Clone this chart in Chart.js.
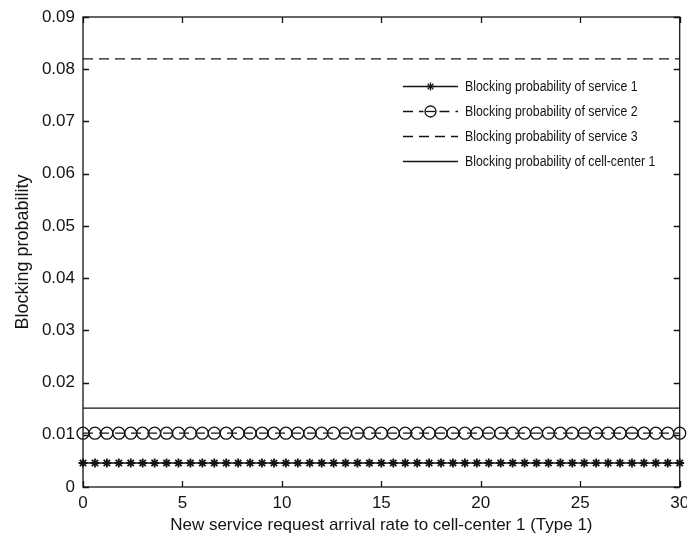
<!DOCTYPE html>
<html>
<head>
<meta charset="utf-8">
<script src="https://cdn.jsdelivr.net/npm/chart.js@4.4.1/dist/chart.umd.min.js"></script>
<style>
  html, body { margin: 0; padding: 0; background: #fff; }
  #wrap { width: 687px; height: 540px; }
</style>
</head>
<body>
<div id="wrap"><canvas id="blockChart" width="687" height="540"></canvas></div>
<script>
// arrival rate (x) values
const rates = [0, 0.6, 1.2, 1.8, 2.4, 3, 3.6, 4.2, 4.8, 5.4, 6, 6.6, 7.2, 7.8, 8.4, 9, 9.6,
  10.2, 10.8, 11.4, 12, 12.6, 13.2, 13.8, 14.4, 15, 15.6, 16.2, 16.8, 17.4, 18, 18.6, 19.2,
  19.8, 20.4, 21, 21.6, 22.2, 22.8, 23.4, 24, 24.6, 25.2, 25.8, 26.4, 27, 27.6, 28.2, 28.8,
  29.4, 30];

// blocking probability per series
const service1 = [0.0046, 0.0046, 0.0046, 0.0046, 0.0046, 0.0046, 0.0046, 0.0046, 0.0046, 0.0046,
  0.0046, 0.0046, 0.0046, 0.0046, 0.0046, 0.0046, 0.0046, 0.0046, 0.0046, 0.0046, 0.0046, 0.0046,
  0.0046, 0.0046, 0.0046, 0.0046, 0.0046, 0.0046, 0.0046, 0.0046, 0.0046, 0.0046, 0.0046, 0.0046,
  0.0046, 0.0046, 0.0046, 0.0046, 0.0046, 0.0046, 0.0046, 0.0046, 0.0046, 0.0046, 0.0046, 0.0046,
  0.0046, 0.0046, 0.0046, 0.0046, 0.0046];
const service2 = [0.0103, 0.0103, 0.0103, 0.0103, 0.0103, 0.0103, 0.0103, 0.0103, 0.0103, 0.0103,
  0.0103, 0.0103, 0.0103, 0.0103, 0.0103, 0.0103, 0.0103, 0.0103, 0.0103, 0.0103, 0.0103, 0.0103,
  0.0103, 0.0103, 0.0103, 0.0103, 0.0103, 0.0103, 0.0103, 0.0103, 0.0103, 0.0103, 0.0103, 0.0103,
  0.0103, 0.0103, 0.0103, 0.0103, 0.0103, 0.0103, 0.0103, 0.0103, 0.0103, 0.0103, 0.0103, 0.0103,
  0.0103, 0.0103, 0.0103, 0.0103, 0.0103];
const service3 = [0.082, 0.082, 0.082, 0.082, 0.082, 0.082, 0.082, 0.082, 0.082, 0.082,
  0.082, 0.082, 0.082, 0.082, 0.082, 0.082, 0.082, 0.082, 0.082, 0.082, 0.082, 0.082,
  0.082, 0.082, 0.082, 0.082, 0.082, 0.082, 0.082, 0.082, 0.082, 0.082, 0.082, 0.082,
  0.082, 0.082, 0.082, 0.082, 0.082, 0.082, 0.082, 0.082, 0.082, 0.082, 0.082, 0.082,
  0.082, 0.082, 0.082, 0.082, 0.082];
const cellCenter1 = [0.0151, 0.0151, 0.0151, 0.0151, 0.0151, 0.0151, 0.0151, 0.0151, 0.0151, 0.0151,
  0.0151, 0.0151, 0.0151, 0.0151, 0.0151, 0.0151, 0.0151, 0.0151, 0.0151, 0.0151, 0.0151, 0.0151,
  0.0151, 0.0151, 0.0151, 0.0151, 0.0151, 0.0151, 0.0151, 0.0151, 0.0151, 0.0151, 0.0151, 0.0151,
  0.0151, 0.0151, 0.0151, 0.0151, 0.0151, 0.0151, 0.0151, 0.0151, 0.0151, 0.0151, 0.0151, 0.0151,
  0.0151, 0.0151, 0.0151, 0.0151, 0.0151];

const seriesNames = ['Blocking probability of service 1', 'Blocking probability of service 2',
  'Blocking probability of service 3', 'Blocking probability of cell-center 1'];
const xTitle = 'New service request arrival rate to cell-center 1 (Type 1)';
const yTitle = 'Blocking probability';

const ink = '#141414';
const sans = '"Liberation Sans", Arial, sans-serif';
const pts = (arr) => arr.map((v, i) => ({ x: rates[i], y: v }));

// MATLAB style '*' marker
function drawStar(ctx, cx, cy, r) {
  ctx.beginPath();
  ctx.moveTo(cx - r, cy); ctx.lineTo(cx + r, cy);
  ctx.moveTo(cx, cy - r); ctx.lineTo(cx, cy + r);
  const d = r * 0.72;
  ctx.moveTo(cx - d, cy - d); ctx.lineTo(cx + d, cy + d);
  ctx.moveTo(cx - d, cy + d); ctx.lineTo(cx + d, cy - d);
  ctx.stroke();
}

// box, inward ticks and legend
const matlabFrame = {
  id: 'matlabFrame',
  afterDraw(chart) {
    const { ctx, chartArea: a, scales: { x, y } } = chart;
    ctx.save();
    ctx.strokeStyle = ink;
    ctx.lineWidth = 1.3;
    ctx.setLineDash([]);
    ctx.strokeRect(a.left, a.top, a.right - a.left, a.bottom - a.top);
    ctx.beginPath();
    x.ticks.forEach(t => {
      const px = Math.round(x.getPixelForValue(t.value)) + 0.5;
      ctx.moveTo(px, a.bottom); ctx.lineTo(px, a.bottom - 6);
      ctx.moveTo(px, a.top); ctx.lineTo(px, a.top + 6);
    });
    y.ticks.forEach(t => {
      const py = Math.round(y.getPixelForValue(t.value)) + 0.5;
      ctx.moveTo(a.left, py); ctx.lineTo(a.left + 6, py);
      ctx.moveTo(a.right, py); ctx.lineTo(a.right - 6, py);
    });
    ctx.stroke();

    // legend (no box, as in the figure)
    const lx0 = 403, lx1 = 458, tx = 465;
    const rows = [86, 111, 136, 161];
    ctx.font = '14px ' + sans;
    ctx.fillStyle = ink;
    ctx.textBaseline = 'middle';
    ctx.lineWidth = 1.3;
    chart.data.datasets.forEach((ds, i) => {
      const ly = rows[i] + 0.5;
      const mid = (lx0 + lx1) / 2;
      ctx.setLineDash(ds.borderDash || []);
      ctx.beginPath();
      if (ds.pointStyle === 'circle') {
        ctx.moveTo(lx0, ly); ctx.lineTo(mid - 7, ly);
        ctx.moveTo(mid + 9, ly); ctx.lineTo(lx1, ly);
      } else {
        ctx.moveTo(lx0, ly); ctx.lineTo(lx1, ly);
      }
      ctx.stroke();
      ctx.setLineDash([]);
      if (ds.pointStyle === 'circle') {
        ctx.beginPath(); ctx.arc(mid, ly, 5.5, 0, Math.PI * 2); ctx.stroke();
        ctx.beginPath(); ctx.moveTo(mid - 5, ly); ctx.lineTo(mid + 5, ly); ctx.stroke();
      } else if (ds.pointStyle === 'star') {
        drawStar(ctx, mid, ly, 4);
      }
      // squeeze text horizontally to mimic the narrow MATLAB font
      ctx.save();
      ctx.translate(tx, rows[i] + 1);
      ctx.scale(0.88, 1);
      ctx.fillText(ds.label, 0, 0);
      ctx.restore();
    });
    ctx.restore();
  }
};

const ctx1 = document.getElementById('blockChart');
const blockChart = new Chart(ctx1, {
  type: 'line',
  data: {
    datasets: [{
      label: seriesNames[0],
      data: pts(service1),
      borderColor: ink,
      borderWidth: 1.4,
      pointStyle: 'star',
      pointRadius: 4.5,
      pointBorderWidth: 1.8,
      pointBorderColor: ink,
      pointBackgroundColor: ink,
      clip: false
    },
    {
      label: seriesNames[1],
      data: pts(service2),
      borderColor: ink,
      borderWidth: 1.3,
      borderDash: [10, 6],
      pointStyle: 'circle',
      pointRadius: 6,
      pointBorderWidth: 1.3,
      pointBorderColor: ink,
      pointBackgroundColor: 'rgba(0,0,0,0)',
      clip: false
    },
    {
      label: seriesNames[2],
      data: pts(service3),
      borderColor: ink,
      borderWidth: 1.3,
      borderDash: [10, 6],
      pointRadius: 0
    },
    {
      label: seriesNames[3],
      data: pts(cellCenter1),
      borderColor: ink,
      borderWidth: 1.3,
      pointRadius: 0
    }]
  },
  options: {
    responsive: false,
    animation: false,
    events: [],
    layout: { padding: { top: 17, right: 5, left: 0, bottom: 0 } },
    plugins: {
      legend: { display: false },
      tooltip: { enabled: false }
    },
    scales: {
      x: {
        type: 'linear',
        min: 0,
        max: 30,
        border: { display: false },
        grid: { display: false, drawTicks: false },
        ticks: {
          stepSize: 5,
          padding: 6,
          color: ink,
          font: { family: sans, size: 17 }
        },
        title: {
          display: true,
          text: xTitle,
          color: ink,
          font: { family: sans, size: 17 },
          padding: { top: 0, bottom: 4 }
        },
        afterFit(scale) {
          scale.height = 53;
          scale.paddingLeft = 0;
          scale.paddingRight = 0;
        }
      },
      y: {
        min: 0,
        max: 0.09,
        border: { display: false },
        grid: { display: false, drawTicks: false },
        ticks: {
          stepSize: 0.01,
          padding: 8,
          color: ink,
          font: { family: sans, size: 17 },
          callback: (v) => Number(v.toFixed(2)).toString()
        },
        title: {
          display: true,
          text: yTitle,
          color: ink,
          font: { family: sans, size: 18 },
          padding: { top: 12, bottom: 0 }
        },
        afterFit(scale) {
          scale.width = 83;
          scale.paddingTop = 0;
          scale.paddingBottom = 0;
        }
      }
    }
  },
  plugins: [matlabFrame]
});
</script>
</body>
</html>
